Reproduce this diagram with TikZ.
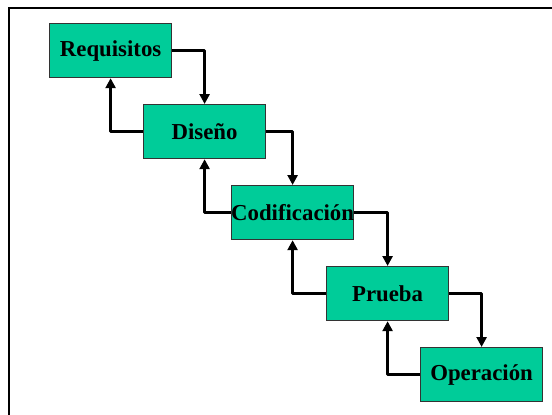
\documentclass[tikz,border=0pt]{standalone}
\usepackage{fontspec}
\setmainfont{Liberation Serif}
\usetikzlibrary{arrows.meta}
\definecolor{boxfill}{HTML}{00CC99}
\definecolor{boxline}{HTML}{333333}
\begin{document}
\begin{tikzpicture}[x=1pt,y=-1pt,
  stage/.style={draw=boxline,line width=1.2pt,fill=boxfill,minimum width=122pt,minimum height=54pt,inner sep=0pt,anchor=north west},
  label/.style={font=\bfseries\fontsize{22.8}{26}\selectfont,inner sep=0pt},
  flow/.style={line width=2.6pt,line join=round,-{Triangle[length=10pt,width=10pt]}}]
\useasboundingbox (0,0) rectangle (552,415);
\draw[line width=2.4pt] (9,415) -- (9,8) -- (552,8);
\node[stage] (req) at (49,23) {};
\node[stage] (dis) at (143,104) {};
\node[stage] (cod) at (231,185) {};
\node[stage] (pru) at (326,266) {};
\node[stage] (ope) at (420,347) {};
\node[label] at (req.center) {Requisitos};
\node[label] at (dis.center) {Diseño};
\node[label] at (cod.center) {Codificación};
\node[label] at (pru.center) {Prueba};
\node[label] at (ope.center) {Operación};
\draw[flow] (req.east) -| (dis.north);
\draw[flow] (dis.east) -| (cod.north);
\draw[flow] (cod.east) -| (pru.north);
\draw[flow] (pru.east) -| (ope.north);
\draw[flow] (dis.west) -| (req.south);
\draw[flow] (cod.west) -| (dis.south);
\draw[flow] (pru.west) -| (cod.south);
\draw[flow] (ope.west) -| (pru.south);
\end{tikzpicture}
\end{document}
